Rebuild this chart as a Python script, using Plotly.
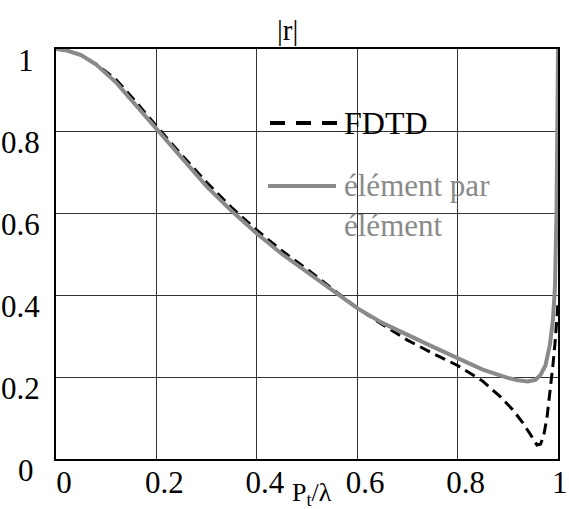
import plotly.graph_objects as go

# élément par élément (gray solid)
x_ee = [0, 0.02, 0.05, 0.08, 0.12, 0.16, 0.2, 0.25, 0.3, 0.35, 0.4, 0.45, 0.5, 0.55,
        0.6, 0.65, 0.7, 0.75, 0.8, 0.85, 0.9, 0.92, 0.94, 0.955, 0.965, 0.975, 0.984,
        0.99, 0.994, 0.997, 0.999, 1.0]
r_ee = [1.0, 0.997, 0.985, 0.962, 0.918, 0.862, 0.805, 0.733, 0.665, 0.605, 0.55, 0.50,
        0.455, 0.41, 0.368, 0.332, 0.302, 0.274, 0.246, 0.218, 0.198, 0.192, 0.189,
        0.193, 0.205, 0.228, 0.28, 0.34, 0.42, 0.6, 0.85, 1.0]

# FDTD (black dashed)
x_fdtd = [0, 0.02, 0.05, 0.08, 0.12, 0.16, 0.2, 0.25, 0.3, 0.35, 0.4, 0.45, 0.5, 0.55,
          0.6, 0.65, 0.7, 0.75, 0.8, 0.85, 0.885, 0.91, 0.93, 0.945, 0.958, 0.965,
          0.971, 0.978, 0.984, 0.99, 0.994, 1.0]
r_fdtd = [1.0, 0.997, 0.985, 0.963, 0.925, 0.87, 0.812, 0.742, 0.675, 0.613, 0.558,
          0.508, 0.463, 0.415, 0.368, 0.328, 0.29, 0.258, 0.228, 0.19, 0.152, 0.12,
          0.088, 0.06, 0.034, 0.036, 0.054, 0.1, 0.16, 0.23, 0.282, 0.38]

tick_vals = [0, 0.2, 0.4, 0.6, 0.8, 1.0]
x_tick_text = ["0", "0.2", "0.4", "0.6", "0.8", "1\u2009\u2009"]
y_tick_text = ["0\u2009", "0.2", "0.4", "0.6", "0.8", "1\u2009"]

FONT = "Liberation Serif, Times New Roman, serif"
GRAY = "#8a8a8a"

fig = go.Figure()
fig.add_trace(go.Scatter(x=x_fdtd, y=r_fdtd, mode="lines", name="FDTD",
                         line=dict(color="black", width=3, dash="11px,6px")))
fig.add_trace(go.Scatter(x=x_ee, y=r_ee, mode="lines", name="élément par élément",
                         line=dict(color=GRAY, width=4)))

W, H = 569, 509
L, R, T, B = 56, 11, 49, 50
pw, ph = W - L - R, H - T - B

def px2x(px):
    return (px - L) / pw

def py2y(py):
    return (H - B - py) / ph

# legend samples
fig.add_shape(type="line", xref="paper", yref="paper", x0=px2x(270), x1=px2x(338),
              y0=py2y(123), y1=py2y(123),
              line=dict(color="black", width=4, dash="15px,11px"))
fig.add_shape(type="line", xref="paper", yref="paper", x0=px2x(268), x1=px2x(336),
              y0=py2y(186), y1=py2y(186), line=dict(color=GRAY, width=4))
fig.add_annotation(x=px2x(342), y=py2y(123), xref="paper", yref="paper", text="FDTD",
                   showarrow=False, xanchor="left", yanchor="middle",
                   font=dict(family=FONT, size=32, color="black"))
fig.add_annotation(x=px2x(342), y=py2y(205), xref="paper", yref="paper",
                   text="élément par<br>élément", align="left",
                   showarrow=False, xanchor="left", yanchor="middle",
                   font=dict(family=FONT, size=31, color=GRAY))
# title |r|
fig.add_annotation(x=px2x(287), y=py2y(30), xref="paper", yref="paper", text="|r|",
                   showarrow=False, xanchor="center", yanchor="middle",
                   font=dict(family=FONT, size=29, color="black"))
# x-axis label
fig.add_annotation(x=px2x(312), y=py2y(494), xref="paper", yref="paper",
                   text="P<sub>t</sub>/λ",
                   showarrow=False, xanchor="center", yanchor="middle",
                   font=dict(family=FONT, size=26, color="black"))

axis_common = dict(range=[0, 1], tickvals=tick_vals,
                   showgrid=True, gridcolor="#333333", gridwidth=1,
                   showline=True, linecolor="black", linewidth=2, mirror=True,
                   zeroline=False, ticks="", automargin=False,
                   ticklabeloverflow="allow",
                   tickfont=dict(family=FONT, size=31, color="black"))
fig.update_xaxes(**axis_common, ticktext=x_tick_text, ticklabelshift=8,
                 ticklabelstandoff=-5)
fig.update_yaxes(**axis_common, ticktext=y_tick_text, ticklabelshift=11,
                 ticklabelstandoff=8)

fig.update_layout(width=W, height=H, margin=dict(l=L, r=R, t=T, b=B),
                  plot_bgcolor="white", paper_bgcolor="white", showlegend=False,
                  font=dict(family=FONT))

fig.write_html("out.html", config={"displayModeBar": False},
               post_script="document.body.style.margin='0';document.body.style.overflow='hidden';")
